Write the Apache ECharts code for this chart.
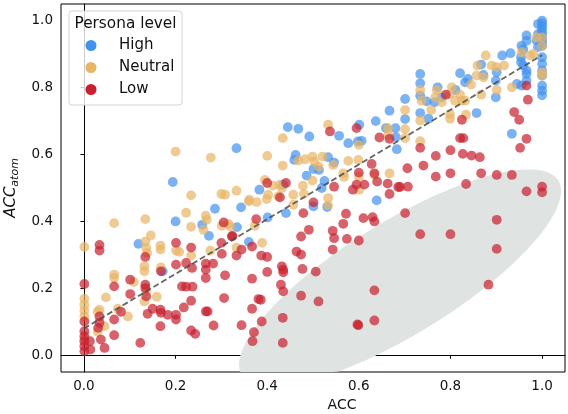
<!DOCTYPE html>
<html>
<head>
<meta charset="utf-8">
<script src="https://cdn.jsdelivr.net/npm/echarts@6/dist/echarts.min.js"></script>
</head>
<body style="margin:0">
<div id="main" style="width:568px;height:414px"></div>
<script>
var tickValues = [0, 0.2, 0.4, 0.6, 0.8, 1.0];
var levelNames = ['High', 'Neutral', 'Low'];
var levelColors = ['#4191f0', '#e8b565', '#c8202d'];

// [ACC, ACC_atom] per point
var highPts = [
    [0.194,0.518],[0.286,0.438],[0.200,0.400],[0.258,0.390],[0.119,0.333],[0.172,0.251],[0.343,0.442],
    [0.334,0.383],[0.273,0.357],[0.360,0.339],[0.667,0.731],[0.333,0.619],[0.445,0.682],[0.468,0.677],
    [0.492,0.654],[0.557,0.656],[0.601,0.689],[0.637,0.700],[0.577,0.634],[0.598,0.639],[0.606,0.641],
    [0.680,0.679],[0.683,0.616],[0.462,0.599],[0.459,0.584],[0.533,0.592],[0.546,0.576],[0.501,0.557],
    [0.513,0.554],[0.486,0.537],[0.525,0.521],[0.519,0.500],[0.531,0.443],[0.501,0.445],[0.639,0.463],
    [0.435,0.510],[0.383,0.495],[0.441,0.425],[0.401,0.412],[0.659,0.679],[0.681,0.652],
    [1,1.0],[1,0.992],[1,0.984],[1,0.975],[1,0.965],[1,0.955],[1,0.945],[1,0.935],[1,0.925],[1,0.891],
    [1,0.871],[1,0.851],[1,0.836],[1,0.806],[1,0.791],[1,0.777],
    [0.991,0.990],[0.991,0.960],[0.988,0.941],[0.991,0.921],
    [0.966,0.956],[0.966,0.940],[0.955,0.925],[0.959,0.915],[0.954,0.891],[0.954,0.876],[0.959,0.866],
    [0.966,0.851],[0.966,0.841],[0.966,0.821],[0.955,0.806],[0.931,0.903],[0.913,0.896],[0.945,0.811],
    [0.934,0.662],[0.867,0.869],[0.901,0.846],[0.872,0.838],[0.821,0.843],[0.838,0.826],[0.832,0.816],
    [0.899,0.821],[0.899,0.771],[0.811,0.793],[0.772,0.801],[0.734,0.841],[0.734,0.813],[0.734,0.776],
    [0.748,0.759],[0.765,0.756],[0.781,0.771],[0.857,0.724],[0.734,0.724],[0.752,0.707],[0.701,0.766],
    [0.701,0.706]
];
var neutralPts = [
    [0.200,0.609],[0.277,0.591],[0.234,0.478],[0.300,0.482],[0.223,0.426],[0.266,0.417],[0.134,0.407],
    [0.066,0.395],[0.234,0.384],[0.268,0.405],[0.261,0.375],[0.001,0.324],[0.134,0.340],[0.136,0.321],
    [0.138,0.306],[0.146,0.358],[0.167,0.328],[0.167,0.316],[0.201,0.313],[0.208,0.309],[0.234,0.298],
    [0.132,0.266],[0.132,0.251],[0.168,0.263],[0.276,0.313],[0.066,0.241],[0.066,0.231],[0.109,0.219],
    [0.136,0.191],[0.132,0.161],[0.159,0.175],[0.048,0.173],[0.001,0.169],[0.001,0.151],[0.001,0.133],
    [0.001,0.116],[0.001,0.047],[0.034,0.136],[0.030,0.130],[0.030,0.070],[0.045,0.087],[0.074,0.139],
    [0.096,0.116],[0.319,0.385],[0.301,0.387],[0.333,0.322],[0.360,0.460],
    [0.533,0.689],[0.600,0.629],[0.664,0.679],[0.664,0.659],[0.434,0.649],[0.400,0.596],[0.434,0.567],
    [0.468,0.582],[0.483,0.586],[0.499,0.594],[0.503,0.579],[0.521,0.594],[0.544,0.569],[0.512,0.564],
    [0.499,0.522],[0.577,0.581],[0.566,0.544],[0.568,0.533],[0.599,0.584],[0.634,0.539],[0.600,0.534],
    [0.667,0.544],[0.601,0.495],[0.478,0.507],[0.457,0.480],[0.480,0.482],[0.533,0.470],[0.533,0.448],
    [0.457,0.450],[0.395,0.524],[0.413,0.507],[0.428,0.510],[0.432,0.500],[0.333,0.492],[0.402,0.480],
    [0.399,0.467],[0.424,0.475],[0.361,0.465],[0.377,0.458],[0.308,0.480],[0.373,0.387],[0.389,0.336],
    [0.315,0.393],
    [0.701,0.733],[0.701,0.676],[0.701,0.649],[1,0.846],[1,0.836],[1,0.925],[1,0.950],
    [0.981,0.901],[0.974,0.896],[0.988,0.950],[0.955,0.906],[0.917,0.866],[0.934,0.801],[0.877,0.896],
    [0.859,0.866],[0.890,0.866],[0.901,0.861],[0.857,0.836],[0.872,0.831],[0.845,0.809],[0.901,0.793],
    [0.867,0.779],[0.821,0.779],[0.825,0.761],[0.832,0.761],[0.810,0.761],[0.799,0.781],[0.803,0.801],
    [0.770,0.793],[0.767,0.771],[0.734,0.793],[0.737,0.761],[0.781,0.756],[0.799,0.721],[0.799,0.707],
    [0.834,0.719],[0.758,0.733],[0.734,0.702],[0.734,0.640]
];
var lowPts = [
    [0.305,0.397],[0.034,0.330],[0.034,0.313],[0.201,0.336],[0.234,0.322],[0.134,0.294],[0.168,0.251],
    [0.201,0.271],[0.223,0.276],[0.236,0.261],[0.266,0.274],[0.266,0.256],[0.266,0.231],[0.282,0.274],
    [0.300,0.336],[0.301,0.303],[0.323,0.355],[0.308,0.239],[0.101,0.226],[0.066,0.206],[0.001,0.213],
    [0.134,0.211],[0.134,0.201],[0.101,0.183],[0.136,0.176],[0.001,0.101],[0.001,0.072],[0.001,0.057],
    [0.001,0.042],[0.001,0.027],[0.001,0.012],[0.013,0.042],[0.014,0.017],[0.037,0.047],[0.045,0.022],
    [0.034,0.116],[0.034,0.097],[0.031,0.082],[0.066,0.107],[0.066,0.060],[0.081,0.130],[0.139,0.124],
    [0.150,0.139],[0.167,0.136],[0.168,0.127],[0.183,0.121],[0.167,0.087],[0.123,0.037],[0.201,0.121],
    [0.201,0.107],[0.218,0.143],[0.214,0.206],[0.223,0.205],[0.237,0.205],[0.234,0.163],[0.266,0.131],
    [0.270,0.131],[0.234,0.074],[0.243,0.064],[0.283,0.089],[0.306,0.171],[0.324,0.357],[0.367,0.325],
    [0.333,0.298],[0.344,0.316],[0.367,0.229],[0.367,0.139],[0.344,0.090],
    [0.479,0.425],[0.572,0.423],[0.610,0.410],[0.630,0.413],[0.634,0.400],[0.566,0.393],[0.543,0.372],
    [0.546,0.350],[0.574,0.348],[0.600,0.343],[0.543,0.316],[0.491,0.375],[0.474,0.355],[0.464,0.310],
    [0.474,0.301],[0.477,0.258],[0.506,0.250],[0.432,0.266],[0.435,0.256],[0.435,0.248],[0.430,0.211],
    [0.435,0.191],[0.474,0.178],[0.512,0.161],[0.634,0.194],[0.634,0.104],[0.599,0.090],[0.597,0.092],
    [0.434,0.112],[0.434,0.037],[0.388,0.101],[0.371,0.069],[0.368,0.042],[0.381,0.168],[0.386,0.166],
    [0.400,0.249],[0.387,0.298],[0.400,0.294],[0.376,0.407],[0.400,0.515],[0.441,0.515],[0.428,0.472],
    [0.501,0.457],[0.537,0.669],[0.595,0.679],[0.645,0.651],[0.667,0.647],[0.628,0.572],[0.634,0.544],
    [0.600,0.546],[0.640,0.519],[0.663,0.513],[0.667,0.482],[0.686,0.503],[0.595,0.510],[0.612,0.510],
    [0.587,0.495],[0.546,0.504],[0.706,0.559],[0.690,0.503],[0.707,0.504],[0.701,0.425],
    [0.790,0.779],[0.966,0.806],[0.969,0.764],[0.939,0.727],[0.950,0.704],[0.966,0.647],[0.952,0.620],
    [0.825,0.704],[0.821,0.649],[0.828,0.649],[0.734,0.620],[0.800,0.613],[0.768,0.596],[0.827,0.602],
    [0.846,0.597],[0.864,0.592],[0.741,0.567],[0.768,0.534],[0.800,0.544],[0.867,0.544],[0.901,0.539],
    [0.934,0.539],[0.834,0.512],[0.966,0.490],[1,0.504],[1,0.487],[0.734,0.362],[0.800,0.362],
    [0.901,0.405],[0.901,0.318],[0.883,0.211]
];

var trendLine = [[0, 0.080], [1, 0.897]];

// shaded region: centre plus two conjugate half-axes (data units)
var blobCenter = [0.690, 0.231];
var blobAxisA = [0.3514, 0.2595];
var blobAxisB = [0, 0.195];

var font = 'DejaVu Sans';
var chart = echarts.init(document.getElementById('main'), null, {renderer: 'canvas'});

var scatterData = [highPts, neutralPts, lowPts];
var series = [{
    type: 'custom',
    silent: true,
    z: 1,
    data: [blobCenter],
    renderItem: function (params, api) {
        var pts = [];
        for (var i = 0; i < 160; i++) {
            var t = i / 160 * Math.PI * 2;
            pts.push(api.coord([
                blobCenter[0] + blobAxisA[0] * Math.cos(t) + blobAxisB[0] * Math.sin(t),
                blobCenter[1] + blobAxisA[1] * Math.cos(t) + blobAxisB[1] * Math.sin(t)
            ]));
        }
        pts = echarts.graphic.clipPointsByRect(pts, params.coordSys);
        return {type: 'polygon', shape: {points: pts}, style: {fill: '#dfe4e2'}};
    }
}];
for (var k = 0; k < levelNames.length; k++) {
    series.push({
        name: levelNames[k],
        type: 'scatter',
        z: 2,
        data: scatterData[k],
        symbolSize: 9.8,
        itemStyle: {color: levelColors[k], opacity: 0.7}
    });
}
series.push({
    type: 'line',
    z: 3,
    data: trendLine,
    symbol: 'none',
    silent: true,
    lineStyle: {color: '#4a4a4a', width: 1.8, type: [6, 3], opacity: 0.85}
});

var option = {
    animation: false,
    backgroundColor: '#fff',
    textStyle: {fontFamily: font},
    grid: {left: 61, top: 4, width: 504, height: 368, outerBoundsMode: 'none',
        show: true, borderColor: '#000', borderWidth: 1},
    legend: {
        data: levelNames,
        z: 10,
        orient: 'vertical',
        left: 85.5,
        top: 38,
        padding: 0,
        icon: 'circle',
        itemWidth: 46,
        itemHeight: 11,
        itemGap: 7,
        itemStyle: {opacity: 1},
        textStyle: {fontFamily: font, fontSize: 15, color: '#111'}
    },
    graphic: [{
        type: 'rect', z: 8,
        shape: {x: 69, y: 11, width: 113, height: 94, r: 3},
        style: {fill: 'rgba(255,255,255,0.8)', stroke: '#d4d4d4', lineWidth: 1}
    }, {
        type: 'text', z: 9, x: 125.5, y: 24,
        style: {text: 'Persona level', font: '15.3px "DejaVu Sans"', fill: '#111', align: 'center', verticalAlign: 'middle'}
    }],
    xAxis: {
        type: 'value', min: -0.05, max: 1.05,
        name: 'ACC', nameLocation: 'middle', nameGap: 25,
        nameTextStyle: {fontFamily: font, fontSize: 14, color: '#111', padding: [0, 0, 0, 58]},
        axisLine: {lineStyle: {color: '#000'}},
        axisTick: {customValues: tickValues, length: 3.5, lineStyle: {color: '#000'}},
        axisLabel: {customValues: tickValues, margin: 7, fontSize: 13.5, color: '#111',
            formatter: function (v) { return v.toFixed(1); }},
        splitLine: {show: false}
    },
    yAxis: {
        type: 'value', min: -0.05, max: 1.05,
        name: '{a|ACC}{b|atom}', nameLocation: 'middle', nameGap: 37, nameRotate: 90,
        nameTextStyle: {rich: {
            a: {fontFamily: font, fontStyle: 'italic', fontSize: 15, color: '#111', lineHeight: 20},
            b: {fontFamily: font, fontStyle: 'italic', fontSize: 11, color: '#111', lineHeight: 20, verticalAlign: 'bottom', padding: [5, 0, 0, 0]}
        }},
        axisLine: {lineStyle: {color: '#000'}},
        axisTick: {customValues: tickValues, length: 3.5, lineStyle: {color: '#000'}},
        axisLabel: {customValues: tickValues, margin: 8, fontSize: 13.5, color: '#111',
            formatter: function (v) { return v.toFixed(1); }},
        splitLine: {show: false}
    },
    series: series
};
chart.setOption(option);
</script>
</body>
</html>
